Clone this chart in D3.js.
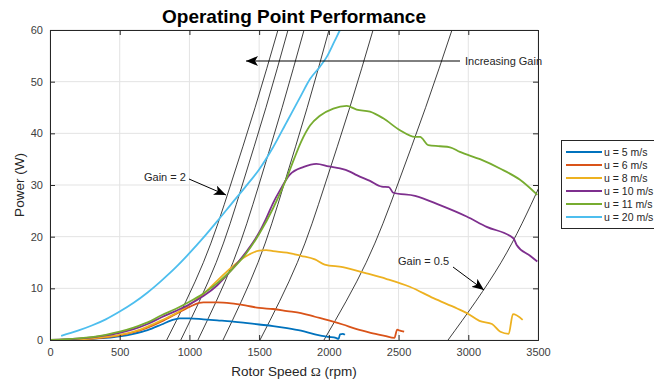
<!DOCTYPE html>
<html>
<head>
<meta charset="utf-8">
<script src="https://cdn.jsdelivr.net/npm/d3@7"></script>
<style>
  body { margin: 0; background: #fff; }
  svg { display: block; font-family: "Liberation Sans", Arial, sans-serif; }
</style>
</head>
<body>
<svg width="654" height="381"></svg>
<script>
// values: [rotor speed rpm, power W]
var u5 = [[0,0],[200,0.1],[400,0.4],[500,0.7],[600,1.2],[700,1.9],[800,3.0],[870,3.8],[930,4.2],[1000,4.2],[1100,4.0],[1200,3.8],[1300,3.6],[1400,3.3],[1500,3.0],[1600,2.7],[1700,2.3],[1800,1.8],[1900,1.1],[1950,0.8],[2000,0.6],[2050,0.4],[2070,0.2],[2080,1.1],[2100,1.2],[2115,1.0]];
var u6 = [[0,0],[200,0.1],[400,0.5],[500,0.9],[600,1.5],[700,2.4],[800,3.6],[900,5.0],[1000,6.4],[1070,7.2],[1100,7.3],[1200,7.3],[1300,7.1],[1400,6.7],[1500,6.2],[1600,6.0],[1700,5.6],[1800,5.2],[1900,4.5],[2000,3.8],[2100,3.0],[2200,2.1],[2300,1.4],[2400,0.8],[2470,0.4],[2490,2.0],[2510,1.8],[2540,1.6]];
var u8 = [[0,0],[200,0.1],[400,0.6],[500,1.0],[600,1.6],[700,2.6],[800,3.8],[900,5.1],[1000,6.8],[1100,8.9],[1200,11.5],[1300,14.0],[1400,16.1],[1500,17.3],[1550,17.4],[1600,17.2],[1700,16.9],[1800,16.3],[1900,15.6],[1970,14.6],[2100,14.1],[2270,12.9],[2415,11.8],[2580,10.3],[2750,8.1],[2920,6.1],[2990,5.2],[3080,3.7],[3170,3.1],[3230,1.6],[3290,1.2],[3320,5.0],[3390,3.9]];
var u10 = [[0,0],[200,0.25],[400,0.9],[500,1.4],[600,2.1],[700,3.1],[800,4.4],[900,5.6],[1000,6.9],[1100,8.5],[1200,10.6],[1300,13.5],[1400,16.8],[1500,20.8],[1550,23.5],[1600,26.5],[1650,29.0],[1720,32.0],[1820,33.5],[1910,34.1],[2000,33.6],[2080,33.2],[2150,32.6],[2200,31.9],[2295,30.8],[2379,29.7],[2430,29.6],[2462,28.5],[2618,27.9],[2797,26.1],[2988,23.9],[3132,21.9],[3323,19.7],[3347,18.4],[3443,16.3],[3495,15.2]];
var u11 = [[0,0],[200,0.3],[400,1.0],[500,1.6],[600,2.4],[700,3.4],[800,4.8],[900,6.0],[1000,7.4],[1100,9.0],[1200,11.0],[1300,13.5],[1400,16.5],[1500,20.5],[1600,25.5],[1700,31.5],[1750,35.0],[1800,38.3],[1865,41.5],[1936,43.4],[2032,44.8],[2128,45.3],[2199,44.6],[2295,44.2],[2390,42.9],[2510,40.6],[2618,39.3],[2654,39.3],[2713,37.7],[2797,37.5],[2869,37.3],[2940,36.4],[3084,35.0],[3227,33.2],[3371,31.0],[3495,28.1]];
var u20 = [[80,0.8],[200,1.8],[300,2.8],[400,4.0],[500,5.5],[600,7.2],[700,9.2],[800,11.5],[900,14.0],[1000,16.8],[1100,19.8],[1200,23.0],[1300,26.3],[1400,29.6],[1500,33.0],[1600,37.3],[1700,42.3],[1800,47.3],[1865,50.5],[1936,52.9],[1985,54.8],[2040,57.8],[2080,60.0],[2120,62.0]];

var seriesNames = ["u = 5 m/s", "u = 6 m/s", "u = 8 m/s", "u = 10 m/s", "u = 11 m/s", "u = 20 m/s"];
var seriesData = [u5, u6, u8, u10, u11, u20];
var seriesColors = ["#0072BD", "#D95319", "#EDB120", "#7E2F8E", "#77AC30", "#4DBEEE"];

// gain curves, rpm at 0, 15, 30, 45, 60 W (leftmost = Gain 2, rightmost = Gain 0.5)
var gainPower = [0, 15, 30, 45, 60];
var gainRpm = [
  [837, 1100, 1295, 1471, 1635],
  [938, 1192, 1379, 1549, 1707],
  [1061, 1312, 1498, 1665, 1822],
  [1241, 1492, 1677, 1845, 2001],
  [1506, 1774, 1971, 2150, 2317],
  [1965, 2268, 2492, 2694, 2883],
  [2855, 3235, 3515]
];

var xTicks = [0, 500, 1000, 1500, 2000, 2500, 3000, 3500];
var yTicks = [0, 10, 20, 30, 40, 50, 60];

var svg = d3.select("svg");
var mLeft = 50, mRight = 538, mTop = 30, mBottom = 340;

var x = d3.scaleLinear().domain([0, 3500]).range([mLeft, mRight]);
var y = d3.scaleLinear().domain([0, 60]).range([mBottom, mTop]);

var defs = svg.append("defs");
defs.append("clipPath").attr("id", "plot")
  .append("rect").attr("x", mLeft).attr("y", mTop)
  .attr("width", mRight - mLeft).attr("height", mBottom - mTop);

defs.append("marker").attr("id", "head")
  .attr("viewBox", "0 0 12 10").attr("refX", 12).attr("refY", 5)
  .attr("markerWidth", 12).attr("markerHeight", 10)
  .attr("markerUnits", "userSpaceOnUse").attr("orient", "auto")
  .append("path").attr("d", "M0,0 L12,5 L0,10 L3,5 Z").attr("fill", "#000");

// grid
var grid = svg.append("g").attr("stroke", "#e3e3e3").attr("stroke-width", 1);
xTicks.forEach(function (t) {
  grid.append("line").attr("x1", x(t)).attr("x2", x(t)).attr("y1", mTop).attr("y2", mBottom);
});
yTicks.forEach(function (t) {
  grid.append("line").attr("x1", mLeft).attr("x2", mRight).attr("y1", y(t)).attr("y2", y(t));
});

var plot = svg.append("g").attr("clip-path", "url(#plot)");

// gain curves
var gainLine = d3.line()
  .x(function (d) { return x(d[0]); })
  .y(function (d) { return y(d[1]); })
  .curve(d3.curveNatural);

gainRpm.forEach(function (row) {
  var pts = row.map(function (r, i) { return [r, gainPower[i]]; });
  plot.append("path").attr("d", gainLine(pts))
    .attr("fill", "none").attr("stroke", "#000").attr("stroke-width", 0.75);
});

// data
var dataLine = d3.line()
  .x(function (d) { return x(d[0]); })
  .y(function (d) { return y(d[1]); })
  .curve(d3.curveMonotoneX);

seriesData.forEach(function (s, i) {
  plot.append("path").attr("d", dataLine(s))
    .attr("fill", "none").attr("stroke", seriesColors[i])
    .attr("stroke-width", 1.8).attr("stroke-linejoin", "round");
});

// axes
var axisColor = "#262626";
var xAxis = svg.append("g").attr("transform", "translate(0," + mBottom + ")")
  .call(d3.axisBottom(x).tickValues(xTicks).tickSize(-5).tickPadding(8).tickFormat(d3.format("d")));
var xTop = svg.append("g").attr("transform", "translate(0," + mTop + ")")
  .call(d3.axisTop(x).tickValues(xTicks).tickSize(-5).tickFormat(""));
var yAxis = svg.append("g").attr("transform", "translate(" + mLeft + ",0)")
  .call(d3.axisLeft(y).tickValues(yTicks).tickSize(-5).tickPadding(7));
var yRight = svg.append("g").attr("transform", "translate(" + mRight + ",0)")
  .call(d3.axisRight(y).tickValues(yTicks).tickSize(-5).tickFormat(""));

[xAxis, xTop, yAxis, yRight].forEach(function (a) {
  a.selectAll("path").attr("stroke", axisColor).attr("stroke-width", 1);
  a.selectAll("line").attr("stroke", axisColor);
  a.selectAll("text").attr("fill", "#404040").attr("font-size", 11)
    .attr("font-family", "Liberation Sans, Arial, sans-serif");
});

// titles
svg.append("text").attr("x", (mLeft + mRight) / 2).attr("y", 23)
  .attr("text-anchor", "middle").attr("font-size", 19).attr("font-weight", "bold")
  .attr("fill", "#000").text("Operating Point Performance");

var xl = svg.append("text").attr("x", (mLeft + mRight) / 2).attr("y", 376)
  .attr("text-anchor", "middle").attr("font-size", 13.5).attr("fill", "#262626");
xl.append("tspan").text("Rotor Speed ");
xl.append("tspan").attr("font-family", "Liberation Serif, Times New Roman, serif").text("Ω");
xl.append("tspan").text(" (rpm)");

svg.append("text").attr("transform", "translate(24," + ((mTop + mBottom) / 2) + ") rotate(-90)")
  .attr("text-anchor", "middle").attr("font-size", 13.5).attr("fill", "#262626").text("Power (W)");

// annotations
svg.append("line").attr("x1", 460).attr("y1", 61).attr("x2", 246).attr("y2", 61)
  .attr("stroke", "#000").attr("stroke-width", 1).attr("marker-end", "url(#head)");
svg.append("text").attr("x", 465).attr("y", 65).attr("font-size", 11).attr("fill", "#262626")
  .text("Increasing Gain");

svg.append("line").attr("x1", 189).attr("y1", 179).attr("x2", 226).attr("y2", 195)
  .attr("stroke", "#000").attr("stroke-width", 1).attr("marker-end", "url(#head)");
svg.append("text").attr("x", 144).attr("y", 181).attr("font-size", 11).attr("fill", "#262626")
  .text("Gain = 2");

svg.append("line").attr("x1", 453).attr("y1", 267).attr("x2", 484).attr("y2", 290)
  .attr("stroke", "#000").attr("stroke-width", 1).attr("marker-end", "url(#head)");
svg.append("text").attr("x", 398).attr("y", 265).attr("font-size", 11).attr("fill", "#262626")
  .text("Gain = 0.5");

// legend
var leg = svg.append("g");
leg.append("rect").attr("x", 561.5).attr("y", 140.5).attr("width", 110).attr("height", 88)
  .attr("fill", "#fff").attr("stroke", "#262626").attr("stroke-width", 1);
seriesNames.forEach(function (n, i) {
  var yy = 152 + i * 13;
  leg.append("line").attr("x1", 566).attr("x2", 602).attr("y1", yy).attr("y2", yy)
    .attr("stroke", seriesColors[i]).attr("stroke-width", 1.8);
  leg.append("text").attr("x", 604).attr("y", yy + 3.5).attr("font-size", 10.5)
    .attr("fill", "#262626").text(n);
});
</script>
</body>
</html>
